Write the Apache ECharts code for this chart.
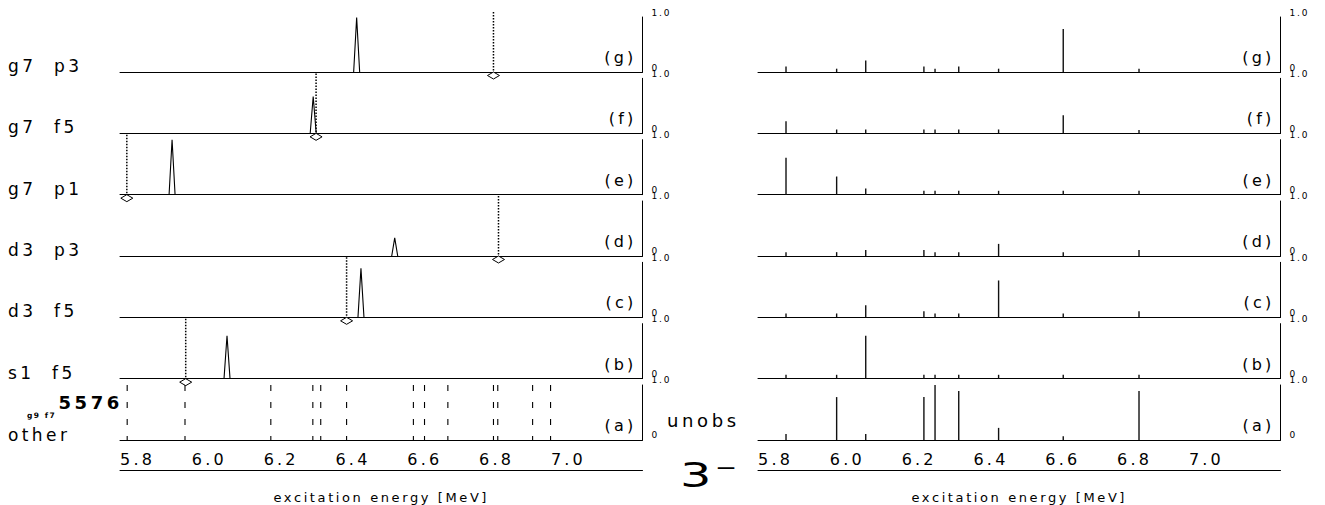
<!DOCTYPE html>
<html>
<head>
<meta charset="utf-8">
<title>3- strength distribution</title>
<script src="https://cdn.jsdelivr.net/npm/echarts@6/dist/echarts.min.js"></script>
<style>
  html, body { margin: 0; padding: 0; background: #fff; }
  #chart { width: 1325px; height: 505px; }
  /* plotter-style lettering: evenly spread characters */
  #chart text { letter-spacing: 0.2em; }
</style>
</head>
<body>
<div id="chart"></div>
<script>
// ---- data -------------------------------------------------------------
const energyTicks = [5.8, 6.0, 6.2, 6.4, 6.6, 6.8, 7.0];
const strengthTickLabels = ['0', '1.0'];
const panelTags = ['(g)', '(f)', '(e)', '(d)', '(c)', '(b)', '(a)'];
const configLabels = ['g7  p3', 'g7  f5', 'g7  p1', 'd3  p3', 'd3  f5', 's1  f5'];

// calculated configurations, panels (g) .. (b): energy [MeV] and relative strength
const calcEnergy   = [6.459, 6.338, 5.945, 6.565, 6.471, 6.098];
const calcStrength = [0.99, 0.67, 1.00, 0.33, 0.89, 0.78];
// level each configuration is assigned to
const assignedLevel = [6.840, 6.346, 5.819, 6.854, 6.431, 5.983];
// other known 3- levels, panel (a)
const otherLevels = [5.820, 5.981, 6.220, 6.337, 6.359, 6.431, 6.617, 6.648,
                     6.713, 6.840, 6.852, 6.949, 6.999];

// unobserved states: energies and strength per configuration panel
const unobsEnergy = [5.878, 6.019, 6.100, 6.262, 6.293, 6.359, 6.470, 6.650, 6.861];
const unobsG = [0.10, 0.06, 0.21, 0.10, 0.06, 0.10, 0.06, 0.78, 0.06];
const unobsF = [0.22, 0.07, 0.07, 0.07, 0.07, 0.07, 0.07, 0.33, 0.06];
const unobsE = [0.67, 0.33, 0.11, 0.07, 0.07, 0.07, 0.07, 0.07, 0.07];
const unobsD = [0.07, 0.07, 0.11, 0.11, 0.07, 0.07, 0.22, 0.07, 0.11];
const unobsC = [0.07, 0.07, 0.22, 0.11, 0.07, 0.07, 0.67, 0.07, 0.11];
const unobsB = [0.07, 0.07, 0.78, 0.07, 0.07, 0.07, 0.07, 0.07, 0.07];
const unobsA = [0.11, 0.78, 0.11, 0.78, 1.00, 0.89, 0.22, 0.07, 0.89];
const unobsPanels = [unobsG, unobsF, unobsE, unobsD, unobsC, unobsB, unobsA];

// ---- layout -----------------------------------------------------------
const FONT = "'DejaVu Sans', sans-serif";
const LEFT_X = 120, RIGHT_X = 758, PLOT_W = 522.5;
const BASE0 = 72, PITCH = 61.33, PANEL_H = 55;
const E_MIN = 5.8, E_MAX = 7.255;
const ASSIGNED_TOP = 1.09;   // height of the dotted assignment markers
const AXIS_Y = 470.5;        // energy scale line
const N = panelTags.length;

const baseline = i => BASE0 + PITCH * i;

const grids = [], xAxes = [], yAxes = [], series = [];

function addPanel(left, i) {
  const g = grids.length;
  grids.push({ left: left, top: baseline(i) - PANEL_H, width: PLOT_W, height: PANEL_H,
               outerBoundsMode: 'none' });
  xAxes.push({
    gridIndex: g, type: 'value', min: E_MIN, max: E_MAX,
    axisLine: { show: true, onZero: false, lineStyle: { color: '#000', width: 1 } },
    axisTick: { show: false }, axisLabel: { show: false }, splitLine: { show: false }
  });
  yAxes.push({
    gridIndex: g, type: 'value', min: 0, max: 1, interval: 1, position: 'right',
    axisLine: { show: true, lineStyle: { color: '#000', width: 1 } },
    axisTick: { show: false }, splitLine: { show: false },
    axisLabel: {
      show: true, margin: 9, fontSize: 9, fontFamily: FONT, color: '#000',
      verticalAlign: 'bottom',
      formatter: v => strengthTickLabels[Math.round(v)]
    }
  });
  return g;
}

function addScale(left) {
  const g = grids.length;
  grids.push({ left: left, top: AXIS_Y - 25, width: PLOT_W, height: 25, outerBoundsMode: 'none' });
  xAxes.push({
    gridIndex: g, type: 'value', min: E_MIN, max: E_MAX, interval: 0.2, position: 'bottom',
    axisLine: { show: true, onZero: false, lineStyle: { color: '#000', width: 1 } },
    axisTick: { show: false }, splitLine: { show: false },
    axisLabel: {
      show: true, inside: true, margin: 3, align: 'left', fontSize: 16, fontFamily: FONT,
      color: '#000', showMaxLabel: false,
      formatter: v => energyTicks.some(t => Math.abs(t - v) < 1e-6) ? v.toFixed(1) : ''
    },
    name: 'excitation energy [MeV]', nameLocation: 'middle', nameGap: 20,
    nameTextStyle: { fontSize: 13, fontFamily: FONT, color: '#000' }
  });
  yAxes.push({ gridIndex: g, type: 'value', show: false });
}

// narrow triangular peak for a calculated configuration
function renderPeak(params, api) {
  const b = api.coord([api.value(0), 0]);
  const t = api.coord([api.value(0), api.value(1)]);
  return {
    type: 'polyline',
    shape: { points: [[b[0] - 3, b[1]], [t[0], t[1]], [b[0] + 3, b[1]]] },
    style: { stroke: '#000', lineWidth: 1.1, fill: null }
  };
}

// dotted marker with an open diamond under the axis
function renderAssigned(params, api) {
  const b = api.coord([api.value(0), 0]);
  const t = api.coord([api.value(0), ASSIGNED_TOP]);
  return {
    type: 'group',
    children: [
      { type: 'line', shape: { x1: t[0], y1: t[1], x2: b[0], y2: b[1] },
        style: { stroke: '#000', lineWidth: 1.5, lineDash: [1.5, 1.5] } },
      { type: 'polygon',
        shape: { points: [[b[0], b[1]], [b[0] + 6, b[1] + 3.5], [b[0], b[1] + 7], [b[0] - 6, b[1] + 3.5]] },
        style: { fill: '#fff', stroke: '#000', lineWidth: 1 } }
    ]
  };
}

// dashed line for the other levels
function renderOther(params, api) {
  const b = api.coord([api.value(0), 0]);
  const t = api.coord([api.value(0), 1]);
  return {
    type: 'line', shape: { x1: t[0], y1: t[1], x2: b[0], y2: b[1] },
    style: { stroke: '#000', lineWidth: 1.1, lineDash: [6, 11] }
  };
}

// vertical stick for an unobserved state
function renderStick(params, api) {
  const b = api.coord([api.value(0), 0]);
  const t = api.coord([api.value(0), api.value(1)]);
  return {
    type: 'line', shape: { x1: b[0], y1: b[1], x2: t[0], y2: t[1] },
    style: { stroke: '#111', lineWidth: 1.4 }
  };
}

// left column: calculated configurations and known levels
for (let i = 0; i < N; i++) {
  const g = addPanel(LEFT_X, i);
  if (i < N - 1) {
    series.push({ type: 'custom', xAxisIndex: g, yAxisIndex: g,
                  data: [[calcEnergy[i], calcStrength[i]]], renderItem: renderPeak });
    series.push({ type: 'custom', xAxisIndex: g, yAxisIndex: g,
                  data: [[assignedLevel[i]]], renderItem: renderAssigned });
  } else {
    series.push({ type: 'custom', xAxisIndex: g, yAxisIndex: g,
                  data: otherLevels.map(e => [e]), renderItem: renderOther });
  }
}
// right column: unobserved states
for (let i = 0; i < N; i++) {
  const g = addPanel(RIGHT_X, i);
  const vals = unobsPanels[i];
  series.push({ type: 'custom', xAxisIndex: g, yAxisIndex: g,
                data: unobsEnergy.map((e, k) => [e, vals[k]]), renderItem: renderStick });
}
addScale(LEFT_X);
addScale(RIGHT_X);

// ---- free text --------------------------------------------------------
function label(text, x, y, size, opts) {
  opts = opts || {};
  return {
    type: 'text', x: x, y: y, scaleX: opts.scaleX || 1, silent: true,
    style: {
      text: text, fill: '#000',
      font: (opts.weight || 'normal') + ' ' + size + 'px ' + FONT,
      textAlign: opts.align || 'left', textVerticalAlign: 'middle'
    }
  };
}
const graphics = [];
configLabels.forEach((t, i) => graphics.push(label(t, 8, baseline(i) - 6, 17)));
graphics.push(label('5576', 123, 402, 18, { weight: 'bold', align: 'right' }));
graphics.push(label('g9 f7', 27, 415.7, 7.5, { weight: 'bold' }));
graphics.push(label('other', 8, 434.7, 17));
graphics.push(label('unobs', 667, 420.4, 18));
panelTags.forEach((t, i) => {
  graphics.push(label(t, LEFT_X + PLOT_W - 6, baseline(i) - 14.5, 16, { align: 'right' }));
  graphics.push(label(t, RIGHT_X + PLOT_W - 6, baseline(i) - 14.5, 16, { align: 'right' }));
});
// spin-parity tag 3-
graphics.push(label('3', 680, 475.6, 33, { scaleX: 1.5 }));
graphics.push(label('\u2212', 715, 467, 22, { scaleX: 1.2 }));

const chart = echarts.init(document.getElementById('chart'), null, { renderer: 'svg' });
chart.setOption({
  animation: false,
  backgroundColor: '#fff',
  textStyle: { fontFamily: FONT },
  grid: grids,
  xAxis: xAxes,
  yAxis: yAxes,
  series: series,
  graphic: graphics
});
</script>
</body>
</html>
